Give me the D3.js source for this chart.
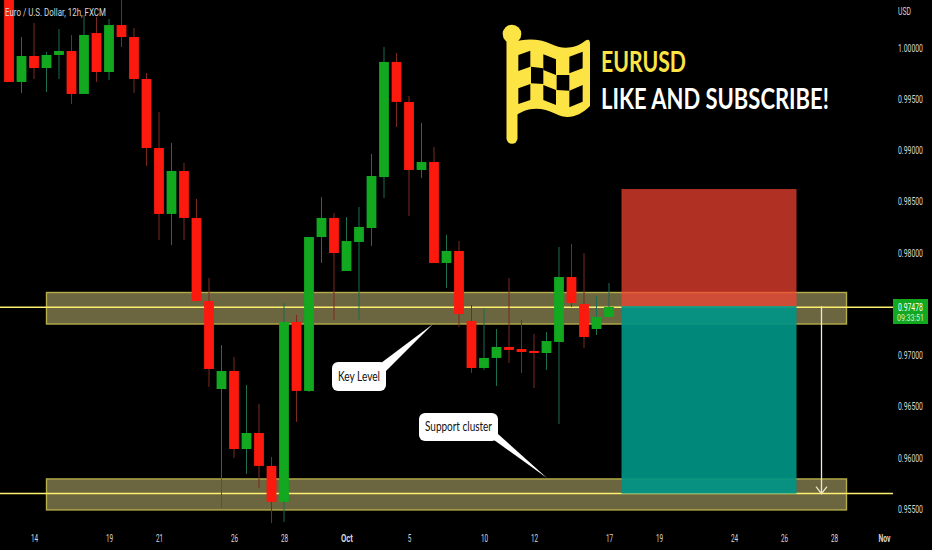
<!DOCTYPE html>
<html><head><meta charset="utf-8">
<script src="https://cdnjs.cloudflare.com/ajax/libs/d3/7.8.5/d3.min.js"></script>
<style>html,body{margin:0;padding:0;background:#000;overflow:hidden}svg{display:block}</style>
</head><body><svg id="c" width="932" height="550"></svg>
<script>
const open_ =[1.00512,.99664,.99917,.99800,.99927,.99966,.99547,1.00141,.99761,1.00219,1.00102,.99693,.99020,.98377,.98796,.98338,.97528,.96670,.96846,.96085,.96241,.95920,.95569,.97324,.96651,.98152,.98338,.97821,.98104,.98240,.98737,.99859,.99469,.98806,.98884,.97899,.98016,.97333,.96875,.96973,.97080,.97060,.97041,.97021,.97129,.97762,.97499,.97255,.97372];
const close_=[.99664,.99917,.99800,.99927,.99966,.99547,1.00122,.99761,1.00219,1.00102,.99693,.99020,.98377,.98796,.98338,.97528,.96865,.96846,.96085,.96241,.95920,.95569,.97324,.96651,.98152,.98338,.97996,.98113,.98250,.98747,.99859,.99469,.98806,.98884,.97899,.98016,.97402,.96875,.96973,.97080,.97051,.97031,.97021,.97138,.97762,.97509,.97177,.97372,.97470];
const high_ =[1.00541,1.00102,1.00239,.99956,1.00180,1.00122,1.00317,1.00297,1.00278,1.00463,1.00190,.99751,.99371,.99069,.98874,.98523,.97753,.97099,.96982,.96709,.96524,.96007,.97509,.97392,.98152,.98542,.98386,.98347,.98445,.98962,1.00005,.99946,.99527,.99264,.99030,.98172,.98113,.97489,.97460,.97255,.97753,.97343,.97207,.97226,.98055,.98084,.97996,.97577,.97704];
const low_  =[.99664,.99556,.99693,.99566,.99693,.99449,.99547,.99664,.99683,1.00005,.99556,.98845,.98123,.98074,.98123,.97528,.96690,.95510,.95998,.95842,.95705,.95364,.95374,.96349,.96641,.97899,.97343,.97821,.97343,.98065,.98533,.99225,.98357,.98728,.97899,.97655,.97275,.96826,.96856,.96700,.96924,.96826,.96680,.96856,.96329,.97470,.97070,.97197,.97372];
const priceTicks=[1.0,.995,.99,.985,.98,.97,.965,.96,.955];
const timeTickBars=[2,8,12,18,22,27,32,38,42,48,52,58,62,66,70];
const timeTickLabels=["14","19","21","26","28","Oct","5","10","12","17","19","24","26","28","Nov"];
const zoneTop=[.97611,.95793], zoneBottom=[.97304,.95491], zoneStart=[3,3], zoneEnd=[67,67];
const levels=[.97467,.95650];
const entryPrice=.97478, stopPrice=.98620, targetPrice=.95650;
const positionBars=[49,63], arrowBar=65;
const lastPriceText="0.97478", countdownText="09:33:51";

const svg=d3.select("#c");
const x=d3.scaleLinear().domain([0,70]).range([9,884]);
const y=d3.scaleLinear().domain([.955,1.0]).range([509,47.5]);
const candles=open_.map((o,i)=>({i,o,c:close_[i],h:high_[i],l:low_[i]}));
const FONT="Roboto,sans-serif";
const GREEN="#12a81f",RED="#fb1a0d",GW="#1d6d50",RW="#7c2a20",LINE="#fdf06e";
// squeeze a label horizontally to the width it has in the reference
const fit=(sel,w)=>sel.each(function(){
  const t=d3.select(this), n=this.getComputedTextLength(), x0=+t.attr("x")||0;
  t.attr("transform",`translate(${x0},0) scale(${w/n},1) translate(${-x0},0)`);
});

// zones
svg.append("g").selectAll("rect").data(zoneTop).join("rect")
 .attr("x",(d,i)=>x(zoneStart[i])).attr("y",d=>y(d))
 .attr("width",(d,i)=>x(zoneEnd[i])-x(zoneStart[i]))
 .attr("height",(d,i)=>y(zoneBottom[i])-y(d))
 .attr("fill","#6b6540").attr("stroke","#b5ad4a").attr("stroke-width",1.4);
// levels
svg.append("g").selectAll("line").data(levels).join("line")
 .attr("x1",0).attr("x2",893).attr("y1",d=>y(d)).attr("y2",d=>y(d))
 .attr("stroke",LINE).attr("stroke-width",1.5);
// position
svg.append("rect").attr("x",x(positionBars[0])).attr("width",x(positionBars[1])-x(positionBars[0]))
 .attr("y",y(stopPrice)).attr("height",y(entryPrice)-y(stopPrice)).attr("fill","rgb(248,68,51)").attr("opacity",.71);
svg.append("rect").attr("x",x(positionBars[0])).attr("width",x(positionBars[1])-x(positionBars[0]))
 .attr("y",y(entryPrice)).attr("height",y(targetPrice)-y(entryPrice)).attr("fill","rgb(0,148,133)").attr("opacity",.92);
// candles
const g=svg.append("g");
g.selectAll("line").data(candles).join("line")
 .attr("x1",d=>x(d.i)).attr("x2",d=>x(d.i)).attr("y1",d=>y(d.h)).attr("y2",d=>y(d.l))
 .attr("stroke",d=>d.c>=d.o?GW:RW).attr("stroke-width",1);
g.selectAll("rect").data(candles).join("rect")
 .attr("x",d=>x(d.i)-4.9).attr("width",9.8)
 .attr("y",d=>y(Math.max(d.o,d.c))).attr("height",d=>Math.max(1.5,Math.abs(y(d.o)-y(d.c))))
 .attr("fill",d=>d.c>=d.o?GREEN:RED);
// arrow
const ax=x(arrowBar),ay=y(targetPrice);
svg.append("line").attr("x1",ax).attr("x2",ax).attr("y1",y(entryPrice)).attr("y2",ay).attr("stroke","#ece8d4").attr("stroke-width",1.3);
svg.append("path").attr("d",`M${ax-5.5},${ay-7}L${ax},${ay}L${ax+5.5},${ay-7}`).attr("fill","none").attr("stroke","#ece8c4").attr("stroke-width",1.3);
// axes
const yAxis=svg.append("g").attr("transform","translate(898,0)")
 .call(d3.axisRight(y).tickValues(priceTicks).tickSize(0).tickPadding(0).tickFormat(d3.format(".5f")));
yAxis.select(".domain").remove();
yAxis.selectAll("text").attr("font-family",FONT).attr("font-size",11).attr("fill","#d6d6d6").attr("x",0).call(fit,25);
const xAxis=svg.append("g").attr("transform","translate(0,534)")
 .call(d3.axisBottom(x).tickValues(timeTickBars).tickSize(0).tickPadding(0).tickFormat((d,i)=>timeTickLabels[i]));
xAxis.select(".domain").remove();
xAxis.selectAll("text").attr("font-family",FONT).attr("font-size",11).attr("fill","#d6d6d6")
 .attr("font-weight",(d,i)=>i===5||i===14?"700":"400")
 .each(function(d,i){const s=timeTickLabels[i];d3.select(this).call(fit,s.length===3?12:s.length*3.6);});
svg.append("text").text("USD").attr("x",898).attr("y",15).attr("font-family",FONT).attr("font-size",11).attr("fill","#d6d6d6").call(fit,13);
svg.append("text").text("Euro / U.S. Dollar, 12h, FXCM").attr("x",5).attr("y",16).attr("font-family",FONT).attr("font-size",11).attr("fill","#d8d8d8").call(fit,101);
// price tag
svg.append("rect").attr("x",893).attr("y",299).attr("width",35).attr("height",25).attr("fill",GREEN);
svg.append("text").text(lastPriceText).attr("x",898).attr("y",311).attr("font-family",FONT).attr("font-size",10.5).attr("fill","#fff").call(fit,25);
svg.append("text").text(countdownText).attr("x",897).attr("y",321).attr("font-family",FONT).attr("font-size",9.5).attr("fill","#d8efd8").call(fit,27);
// callouts
const callouts=[
 {t:"Key Level",x:332,y:362,w:54,h:29,tip:[433,324],b:[[381,363],[386,371]]},
 {t:"Support cluster",x:419,y:413,w:79,h:28,tip:[547,478],b:[[494,440],[498,434]]}];
callouts.forEach(c=>{
 svg.append("polygon").attr("points",[c.tip,...c.b].join(" ")).attr("fill","#fff");
 svg.append("rect").attr("x",c.x).attr("y",c.y).attr("width",c.w).attr("height",c.h).attr("rx",6).attr("fill","#fff");
 svg.append("text").text(c.t).attr("x",c.x+c.w/2).attr("y",c.y+c.h/2+4.5).attr("text-anchor","middle").attr("font-family","Lato,sans-serif").attr("font-size",14).attr("fill","#111").call(fit,c.w-12);
});
// flag
const f=svg.append("g").attr("transform","translate(496,20) scale(0.3333)");
const YEL="#fde445";
f.append("circle").attr("cx",48).attr("cy",42).attr("r",28).attr("fill",YEL);
f.append("line").attr("x1",48).attr("x2",48).attr("y1",45).attr("y2",355).attr("stroke",YEL).attr("stroke-width",33).attr("stroke-linecap","round");
f.append("path").attr("d","M48,66C90,55 130,55 165,72C200,90 240,85 268,62Q282,54 282,72L282,258C250,290 215,300 180,282C130,258 90,262 48,295Z").attr("fill",YEL);
[[[67,105],[103,92],[103,140],[67,153]],[[105,140],[142,145],[142,192],[105,190]],[[142,103],[180,118],[180,165],[142,150]],[[182,165],[220,165],[220,212],[182,210]],[[220,110],[260,95],[260,145],[220,160]],[[67,205],[103,192],[103,240],[67,252]],[[142,195],[180,210],[180,255],[142,240]],[[220,212],[260,195],[260,245],[220,262]]]
 .forEach(p=>f.append("polygon").attr("points",p.join(" ")).attr("fill","#000"));
svg.append("text").text("EURUSD").attr("x",601).attr("y",72).attr("font-family","Lato,sans-serif").attr("font-weight",700).attr("font-size",28).attr("fill",YEL).call(fit,85);
svg.append("text").text("LIKE AND SUBSCRIBE!").attr("x",601).attr("y",109).attr("font-family","Lato,sans-serif").attr("font-weight",700).attr("font-size",29).attr("fill","#fff").call(fit,228);
</script></body></html>
